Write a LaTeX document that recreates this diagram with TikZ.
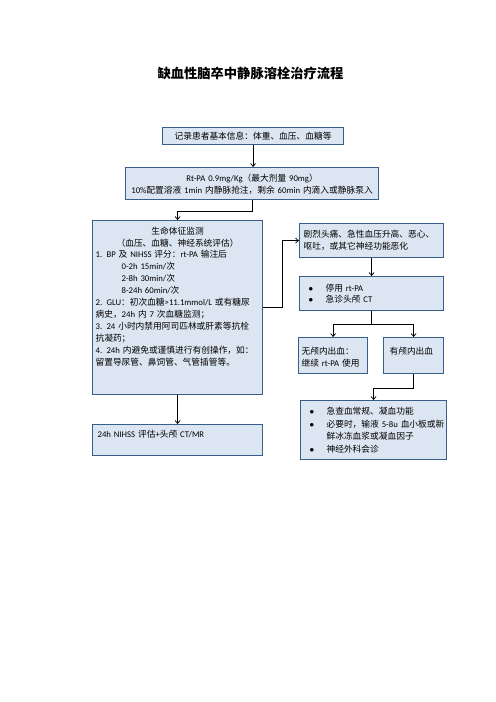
\documentclass[tikz,border=0pt]{standalone}
\usepackage{fontspec}
\setmainfont{Carlito}
\newfontfamily\cjkfont{Noto Sans CJK SC}
\usepackage{tikz}
\usetikzlibrary{arrows.meta}

\definecolor{boxfill}{RGB}{220,230,242}
\definecolor{boxline}{RGB}{56,93,138}
\newlength\upx
\setlength\upx{0.4234mm}

% Chinese runs in the CJK font, the rest in Carlito
\newXeTeXintercharclass\cjkclass
\newcount\cjkcode
\newcommand\cjkrange[2]{%
  \cjkcode=#1
  \loop \XeTeXcharclass\cjkcode=\cjkclass
  \ifnum\cjkcode<#2 \advance\cjkcode by 1 \repeat}
\cjkrange{"3000}{"303F}
\cjkrange{"4E00}{"9FFF}
\cjkrange{"FF00}{"FFEF}
\XeTeXinterchartokenstate=1
\XeTeXinterchartoks 0 \cjkclass = {\cjkfont}
\XeTeXinterchartoks 4095 \cjkclass = {\cjkfont}
\XeTeXinterchartoks \cjkclass 0 = {\rmfamily}
\XeTeXinterchartoks \cjkclass 4095 = {\rmfamily}

\newcommand\boxfont{\fontsize{10.5}{14.4}\selectfont}
\newcommand\itemdot[1]{\hspace*{#1\upx}\makebox[17\upx][l]{$\bullet$}}

\begin{document}
\begin{tikzpicture}[x=\upx, y=-\upx,
        box/.style={draw=boxline, fill=boxfill, line width=1.4pt, inner ysep=0pt,
                    align=left, font=\boxfont, anchor=north west},
        arr/.style={-{Straight Barb[length=3.5pt,width=6pt]}, line width=0.9pt}]

        \useasboundingbox (0,0) rectangle (496,702);

        \node[font=\fontsize{16}{19}\selectfont\bfseries] (title) at (250.5,73) {缺血性脑卒中静脉溶栓治疗流程};

        \node[box, inner xsep=4\upx, text width=173\upx, align=center,
              text height=12\upx, text depth=5\upx] (record) at (162,127)
              {记录患者基本信息：体重、血压、血糖等};
        \node[box, inner xsep=4\upx, text width=245\upx, align=center,
              text height=13.5\upx, text depth=18.5\upx, font=\fontsize{10.5}{15}\selectfont] (dose) at (125,167)
              {Rt-PA 0.9mg/Kg（最大剂量 90mg）\\10\%配置溶液 1min 内静脉抢注，剩余 60min 内滴入或静脉泵入};

        \node[box, inner xsep=3\upx, text width=164\upx,
              text height=13.5\upx, text depth=160.5\upx] (monitor) at (92,220)
              {\centering 生命体征监测\\（血压、血糖、神经系统评估）\par
               \raggedright
               1. BP 及 NIHSS 评分：rt-PA 输注后\\
               \hspace*{26\upx}0-2h 15min/次\\
               \hspace*{26\upx}2-8h 30min/次\\
               \hspace*{26\upx}8-24h 60min/次\\
               2. GLU：初次血糖>11.1mmol/L 或有糖尿\\
               病史，24h 内 7 次血糖监测；\\
               3. 24 小时内禁用阿司匹林或肝素等抗栓\\
               抗凝药；\\
               4. 24h 内避免或谨慎进行有创操作，如：\\
               留置导尿管、鼻饲管、气管插管等。};
        \node[box, inner xsep=5\upx, text width=160\upx,
              text height=13\upx, text depth=18\upx] (reassess) at (92,424)
              {24h NIHSS 评估+头颅 CT/MR};

        \node[box, inner xsep=4\upx, text width=136\upx,
              text height=13.5\upx, text depth=20.5\upx] (symptom) at (299,223)
              {剧烈头痛、急性血压升高、恶心、\\呕吐，或其它神经功能恶化};
        \node[box, inner xsep=2\upx, text width=140\upx,
              text height=14.5\upx, text depth=19.5\upx, font=\fontsize{10.5}{13.8}\selectfont] (stop) at (299,276)
              {\itemdot{7}停用 rt-PA\\\itemdot{7}急诊头颅 CT};

        \node[box, inner xsep=3\upx, text width=63\upx,
              text height=16.5\upx, text depth=19.5\upx] (nobleed) at (298,337)
              {无颅内出血：\\继续 rt-PA 使用};
        \node[box, inner xsep=6\upx, text width=48\upx,
              text height=16.5\upx, text depth=19.5\upx] (bleed) at (383,337)
              {有颅内出血};

        \node[box, inner xsep=1\upx, text width=144\upx,
              text height=13.5\upx, text depth=45.5\upx, font=\fontsize{10.5}{15.6}\selectfont] (care) at (300,400)
              {\itemdot{8}急查血常规、凝血功能\\
               \itemdot{8}必要时，输液 5-8u 血小板或新\\
               \hspace*{25\upx}鲜冰冻血浆或凝血因子\\
               \itemdot{8}神经外科会诊};

        \draw[arr] (record.south) -- (record.south |- dose.north);
        \draw[arr] (dose.south) -- ++(0,11) -| (monitor.north);
        \draw[arr] (monitor.east) -- ++(19,0) |- (symptom.west);
        \draw[arr] (symptom.south) -- (stop.north);
        \draw[line width=0.9pt] (stop.south) -- ++(0,13) coordinate (split);
        \draw[arr] (split) -| (nobleed.north);
        \draw[arr] (split) -| (bleed.north);
        \draw[arr] (bleed.south) -- ++(0,14) -| (care.north);
        \draw[arr] (monitor.south) -- (reassess.north);
    \end{tikzpicture}
\end{document}
